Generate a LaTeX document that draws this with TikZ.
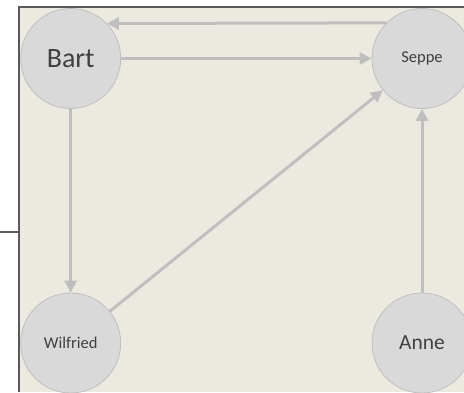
\documentclass[tikz,border=0pt]{standalone}
\usepackage{fontspec}
\setmainfont{Carlito}
\usetikzlibrary{arrows.meta}
\definecolor{panelbg}{HTML}{ECEAE0}
\definecolor{frameln}{HTML}{595959}
\definecolor{nodefill}{HTML}{D9D9D9}
\definecolor{nodeline}{HTML}{BFBFBF}
\definecolor{linkcol}{HTML}{BFBFBF}
\definecolor{labelcol}{HTML}{404040}
\tikzset{
  person/.style={circle, minimum size=100pt, inner sep=0pt, fill=nodefill,
    draw=nodeline, line width=0.8pt, text=labelcol},
  link/.style={draw=linkcol, line width=3pt,
    -{Triangle[length=12pt,width=12pt]}},
  frame/.style={draw=frameln, line width=1.5pt}
}
\begin{document}
\begin{tikzpicture}[x=1pt, y=-1pt]
  \useasboundingbox (0,0) rectangle (464,392);
  % background panel and its frame
  \fill[panelbg] (19,7) rectangle (464,392);
  \draw[frame] (19,392) -- (19,7) -- (464,7);
  \coordinate (tickL) at (0,232);
  \coordinate (tickR) at (19,232);
  \draw[frame] (tickL) -- (tickR);
  % people
  \node[person, font=\fontsize{28}{30}\selectfont] (bart) at (70.7,58.5) {Bart};
  \node[person, font=\fontsize{16.5}{18}\selectfont] (seppe) at (422,58.5) {Seppe};
  \node[person, font=\fontsize{16.5}{18}\selectfont] (wilfried) at (70.7,343) {Wilfried};
  \node[person, font=\fontsize{21.5}{24}\selectfont] (anne) at (422,343) {Anne};
  % relations
  \draw[link] (bart) -- (seppe);
  \draw[link] (seppe.135.6) -- (bart.44.4);
  \draw[link] (bart) -- (wilfried);
  \draw[link] (wilfried) -- (seppe);
  \draw[link] (anne) -- (seppe);
\end{tikzpicture}
\end{document}
